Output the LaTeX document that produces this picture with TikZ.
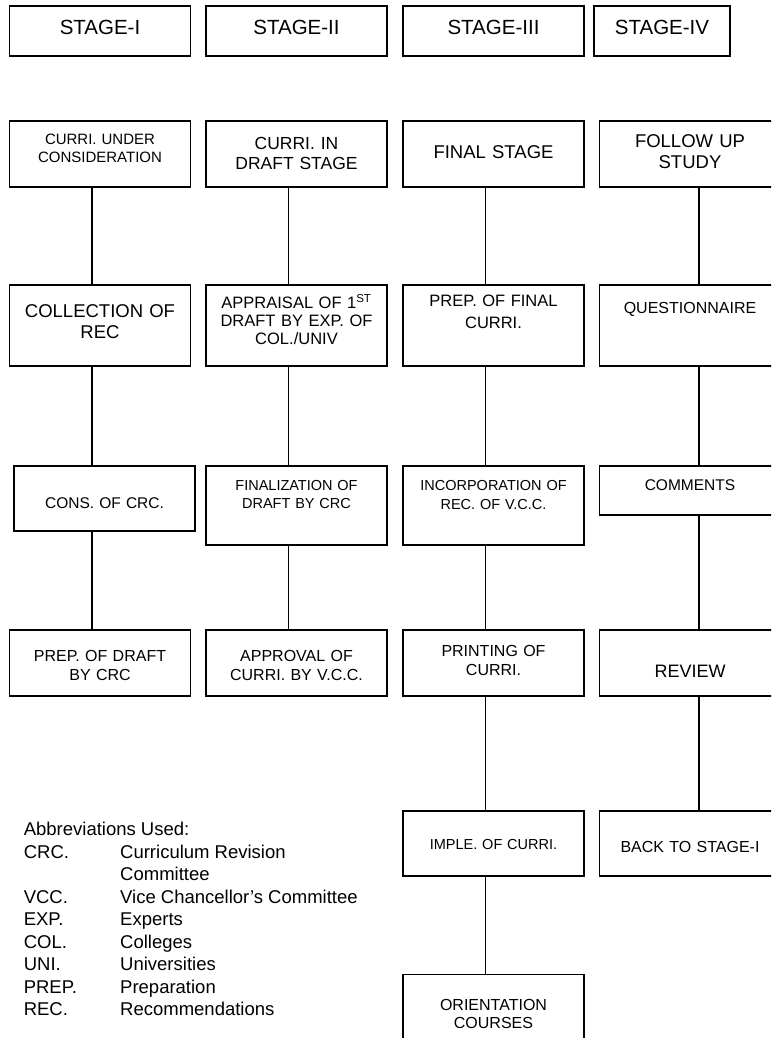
\documentclass[tikz,border=0pt]{standalone}
\usepackage{fontspec}
\setmainfont{Liberation Sans}
\usetikzlibrary{positioning}
\tikzstyle{line} = [draw, line width=1.6pt]
\tikzstyle{box} = [rectangle, draw, line width=1.6pt, inner sep=0pt, text width=181pt, align=center]

\begin{document}
\begin{tikzpicture}[x=1pt, y=1pt]
	\useasboundingbox (0,0) rectangle (771,-1038);
	\clip (0,0) rectangle (771,-1038);
	
	\node [box, text height=28.7pt, text depth=21.3pt, font=\fontsize{20.5}{24}\selectfont] (st1) at (100,-31) {STAGE-I};
	\node [box, right of=st1, node distance=196.5pt, text height=28.7pt, text depth=21.3pt, font=\fontsize{20.5}{24}\selectfont] (st2) {STAGE-II};
	\node [box, right of=st2, node distance=197pt, text height=28.7pt, text depth=21.3pt, font=\fontsize{20.5}{24}\selectfont] (st3) {STAGE-III};
	\node [box, right of=st3, node distance=168.5pt, text width=136pt, text height=28.7pt, text depth=21.3pt, font=\fontsize{20.5}{24}\selectfont] (st4) {STAGE-IV};
	
	% stage I
	\node [box, below of=st1, node distance=123pt, text height=23.3pt, text depth=42.7pt, font=\fontsize{15}{18.4}\selectfont] (under) {CURRI. UNDER\\CONSIDERATION};
	\node [box, below of=under, node distance=171.5pt, text height=32.3pt, text depth=48.7pt, font=\fontsize{18.5}{21}\selectfont] (collect) {COLLECTION OF\\REC};
	\node [box, below of=collect, node distance=173pt, xshift=4.5pt, text height=42.3pt, text depth=22.7pt, font=\fontsize{15.5}{18.5}\selectfont] (cons) {CONS. OF CRC.};
	\node [box, below of=cons, node distance=164.5pt, xshift=-4.5pt, text height=31.7pt, text depth=34.3pt, font=\fontsize{16}{19}\selectfont] (prepd) {PREP. OF DRAFT\\BY CRC};
	
	% stage II
	\node [box, below of=st2, node distance=123pt, text height=28.3pt, text depth=37.7pt, font=\fontsize{17.5}{20}\selectfont] (indraft) {CURRI. IN\\DRAFT STAGE};
	\node [box, below of=indraft, node distance=171.5pt, text height=23.3pt, text depth=57.7pt, font=\fontsize{16.5}{18.3}\selectfont] (apprais) {APPRAISAL OF 1\textsuperscript{ST}\\DRAFT BY EXP. OF\\COL./UNIV};
	\node [box, below of=apprais, node distance=180pt, text height=24.7pt, text depth=54.3pt, font=\fontsize{14.5}{18}\selectfont] (final) {FINALIZATION OF\\DRAFT BY CRC};
	\node [box, below of=final, node distance=157.5pt, text height=31.7pt, text depth=34.3pt, font=\fontsize{16}{19}\selectfont] (approv) {APPROVAL OF\\CURRI. BY V.C.C.};
	
	% stage III
	\node [box, below of=st3, node distance=123pt, text height=37.3pt, text depth=28.7pt, font=\fontsize{18.5}{21}\selectfont] (finst) {FINAL STAGE};
	\node [box, below of=finst, node distance=171.5pt, text height=21.7pt, text depth=59.3pt, font=\fontsize{16.5}{21.5}\selectfont] (prepf) {PREP. OF FINAL\\CURRI.};
	\node [box, below of=prepf, node distance=180pt, text height=24.7pt, text depth=54.3pt, font=\fontsize{14.5}{19}\selectfont] (incorp) {INCORPORATION OF\\REC. OF V.C.C.};
	\node [box, below of=incorp, node distance=157.5pt, text height=26.7pt, text depth=39.3pt, font=\fontsize{16}{18.3}\selectfont] (print) {PRINTING OF\\CURRI.};
	\node [box, below of=print, node distance=180.5pt, text height=38.3pt, text depth=26.7pt, font=\fontsize{14.5}{17}\selectfont] (imple) {IMPLE. OF CURRI.};
	\node [box, below of=imple, node distance=186.25pt, text height=36.2pt, text depth=74.3pt, font=\fontsize{16}{17.7}\selectfont] (orient) {ORIENTATION\\COURSES};
	
	% stage IV
	\node [box, below of=st4, node distance=123pt, xshift=28pt, text height=26.3pt, text depth=39.7pt, font=\fontsize{18.5}{21}\selectfont] (follow) {FOLLOW UP\\STUDY};
	\node [box, below of=follow, node distance=171.5pt, text height=28pt, text depth=53pt, font=\fontsize{16}{19}\selectfont] (quest) {QUESTIONNAIRE};
	\node [box, below of=quest, node distance=165pt, text height=24pt, text depth=25pt, font=\fontsize{15.5}{18}\selectfont] (comm) {COMMENTS};
	\node [box, below of=comm, node distance=172.5pt, text height=47.3pt, text depth=18.7pt, font=\fontsize{18}{21}\selectfont] (review) {REVIEW};
	\node [box, below of=review, node distance=180.5pt, text height=41.3pt, text depth=23.7pt, font=\fontsize{16}{19}\selectfont] (back) {BACK TO STAGE-I};
	
	\path [line] ([xshift=-8pt]under.south) -- ([xshift=-8pt]under.south |- collect.north);
	\path [line] ([xshift=-8pt]collect.south) -- ([xshift=-8pt]collect.south |- cons.north);
	\path [line] ([xshift=-12.5pt]cons.south) -- ([xshift=-12.5pt]cons.south |- prepd.north);
	
	\path [line] ([xshift=-8pt]indraft.south) -- ([xshift=-8pt]indraft.south |- apprais.north);
	\path [line] ([xshift=-8pt]apprais.south) -- ([xshift=-8pt]apprais.south |- final.north);
	\path [line] ([xshift=-8pt]final.south) -- ([xshift=-8pt]final.south |- approv.north);
	
	\path [line] ([xshift=-8pt]finst.south) -- ([xshift=-8pt]finst.south |- prepf.north);
	\path [line] ([xshift=-8pt]prepf.south) -- ([xshift=-8pt]prepf.south |- incorp.north);
	\path [line] ([xshift=-8pt]incorp.south) -- ([xshift=-8pt]incorp.south |- print.north);
	\path [line] ([xshift=-8pt]print.south) -- ([xshift=-8pt]print.south |- imple.north);
	\path [line] ([xshift=-8pt]imple.south) -- ([xshift=-8pt]imple.south |- orient.north);
	
	\path [line] ([xshift=9pt]follow.south) -- ([xshift=9pt]follow.south |- quest.north);
	\path [line] ([xshift=9pt]quest.south) -- ([xshift=9pt]quest.south |- comm.north);
	\path [line] ([xshift=9pt]comm.south) -- ([xshift=9pt]comm.south |- review.north);
	\path [line] ([xshift=9pt]review.south) -- ([xshift=9pt]review.south |- back.north);
	
	% abbreviations
	\node [anchor=base west, inner sep=0pt, font=\fontsize{18.5}{22.5}\selectfont] (abbr) at (23.6,-835.5) {\begin{tabular}[t]{@{}p{96.4pt}@{}l@{}}
		\multicolumn{2}{@{}l@{}}{Abbreviations Used:}\\
		CRC. & Curriculum Revision\\
		& Committee\\
		VCC. & Vice Chancellor's Committee\\
		EXP. & Experts\\
		COL. & Colleges\\
		UNI. & Universities\\
		PREP. & Preparation\\
		REC. & Recommendations
	\end{tabular}};
	
\end{tikzpicture}
\end{document}
